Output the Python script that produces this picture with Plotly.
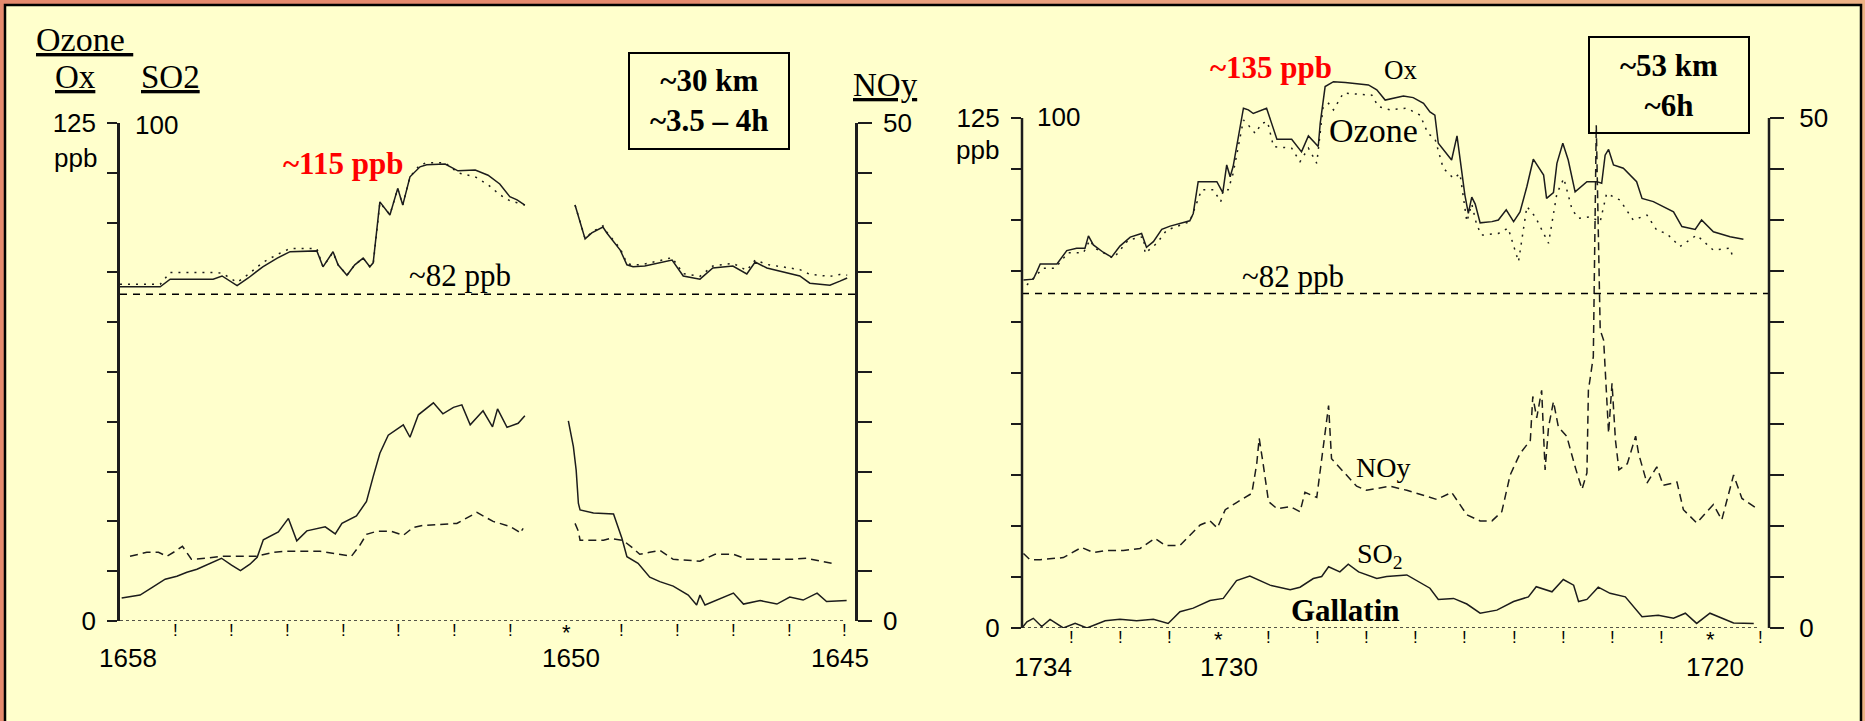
import plotly.graph_objects as go

W, H = 1865, 721

# ---------------- DATA ----------------
# Left panel (time labels 1658 -> 1645)
left_t = [1658.0, 1657.28, 1657.10, 1656.33, 1656.17, 1655.90, 1655.70, 1655.44, 1655.18, 1654.95,
          1654.47, 1654.36, 1654.18, 1654.09, 1653.93, 1653.79, 1653.64, 1653.52, 1653.46, 1653.39,
          1653.34, 1653.16, 1653.02, 1652.93, 1652.80, 1652.62, 1652.50, 1652.17, 1651.94, 1651.63,
          1651.40, 1651.19, 1651.01, 1650.88, 1650.74, None, 1649.84, 1649.66, 1649.54, 1649.34,
          1649.27, 1649.03, 1648.91, 1648.80, 1648.59, 1648.32, 1648.10, 1647.90, 1647.60, 1647.37,
          1647.01, 1646.76, 1646.61, 1646.40, 1645.81, 1645.63, 1645.27, 1645.09, 1644.96]
left_ox = [83.9, 83.9, 85.8, 85.8, 86.6, 84.2, 86.1, 88.9, 91.1, 92.7,
           92.9, 88.9, 92.7, 89.4, 86.8, 89.4, 91.1, 88.9, 89.9, 99.0,
           105.2, 101.9, 108.6, 104.4, 111.5, 114.0, 114.5, 114.7, 113.0, 113.2,
           111.9, 109.7, 106.5, 105.7, 104.4, None, 104.4, 95.9, 97.4, 98.9,
           97.4, 93.1, 89.4, 88.9, 89.1, 89.9, 90.6, 86.6, 85.8, 88.6,
           89.1, 87.1, 90.1, 88.6, 86.6, 84.8, 84.3, 85.3, 86.1]
left_ozone = [84.5, 84.5, 87.5, 87.5, 87.3, 85.0, 87.0, 90.0, 92.0, 93.5,
              93.5, 88.9, 92.5, 89.4, 86.8, 89.4, 91.1, 88.9, 89.5, 99.0,
              105.0, 102.0, 108.5, 104.4, 111.5, 114.5, 115.0, 115.0, 112.5, 111.5,
              109.5, 107.0, 105.5, 105.0, 104.4, None, 104.4, 96.0, 97.6, 99.2,
              97.6, 93.5, 89.8, 89.3, 89.6, 90.4, 91.2, 87.2, 86.5, 89.1,
              89.8, 88.0, 90.6, 89.5, 88.2, 87.0, 86.5, 87.0, 86.8]

left_so2_t = [1657.97, 1657.64, 1657.40, 1657.19, 1656.98, 1656.80, 1656.62, 1656.39, 1656.18, 1656.00,
              1655.84, 1655.67, 1655.54, 1655.43, 1655.16, 1654.98, 1654.83, 1654.65, 1654.32, 1654.14,
              1654.02, 1653.76, 1653.58, 1653.46, 1653.34, 1653.19, 1652.92, 1652.80, 1652.65, 1652.38,
              1652.21, 1652.02, 1651.87, 1651.72, 1651.49, 1651.32, 1651.23, 1651.06, 1650.86, 1650.74,
              None, 1649.96, 1649.87, 1649.82, 1649.78, 1649.75, 1649.51, 1649.15, 1649.09, 1649.00, 1648.91,
              1648.71, 1648.50, 1648.32, 1648.08, 1647.81, 1647.66, 1647.60, 1647.51, 1647.30, 1647.00,
              1646.82, 1646.52, 1646.22, 1645.99, 1645.75, 1645.50, 1645.33, 1644.97]
left_so2 = [4.6, 5.2, 6.9, 8.4, 9.0, 9.8, 10.4, 11.6, 12.6, 11.2,
            10.1, 11.4, 12.8, 16.3, 17.9, 20.6, 16.1, 18.1, 18.9, 17.5,
            19.6, 21.1, 24.0, 29.0, 33.7, 37.3, 39.4, 36.9, 41.4, 43.8,
            41.6, 42.9, 43.4, 39.4, 42.2, 39.0, 42.6, 38.9, 39.7, 41.2,
            None, 40.2, 35.0, 30.3, 23.6, 22.3, 21.7, 21.5, 19.6, 16.6, 12.9,
            11.6, 8.8, 7.9, 7.0, 5.2, 3.2, 5.2, 3.2, 4.2, 5.6,
            3.4, 4.1, 3.4, 4.8, 4.2, 5.6, 3.9, 4.1]

left_noy_t = [1657.82, 1657.52, 1657.31, 1657.16, 1657.01, 1656.88, 1656.72, 1656.45, 1656.18, 1655.97,
              1655.55, 1655.25, 1655.01, 1654.41, 1654.18, 1653.85, 1653.70, 1653.58, 1653.40, 1653.13,
              1652.92, 1652.74, 1652.56, 1651.96, 1651.60, 1651.31, 1651.01, 1650.86, 1650.83, 1650.77,
              None, 1649.84, 1649.78, 1649.75, 1649.33, 1649.21, 1648.98, 1648.80, 1648.68, 1648.50, 1648.32,
              1648.08, 1647.60, 1647.33, 1647.00, 1646.76, 1645.93, 1645.69, 1645.51, 1645.24]
left_noy = [6.5, 6.9, 6.9, 6.5, 7.0, 7.5, 6.2, 6.3, 6.5, 6.5,
            6.5, 6.9, 7.0, 7.0, 6.8, 6.5, 7.6, 8.7, 9.0, 9.0,
            8.6, 9.4, 9.6, 9.8, 10.9, 10.0, 9.5, 9.0, 8.8, 9.3,
            None, 9.8, 9.0, 8.1, 8.1, 8.3, 8.1, 7.3, 6.7, 6.9, 7.1,
            6.2, 6.0, 6.7, 6.7, 6.2, 6.2, 6.3, 6.1, 5.8]

# Right panel (time labels 1734 -> 1720)
right_ox_t = [1733.97, 1733.77, 1733.70, 1733.63, 1733.29, 1733.09, 1732.89, 1732.72, 1732.65, 1732.55,
              1732.35, 1732.18, 1732.01, 1731.80, 1731.57, 1731.47, 1731.33, 1731.16, 1730.99, 1730.59,
              1730.52, 1730.42, 1730.04, 1729.92, 1729.84, 1729.77, 1729.71, 1729.64, 1729.50, 1729.40,
              1729.30, 1729.03, 1728.93, 1728.82, 1728.52, 1728.32, 1728.18, 1728.08, 1727.98, 1727.94,
              1727.84, 1727.67, 1727.43, 1726.96, 1726.79, 1726.62, 1726.45, 1726.25, 1726.05, 1725.84,
              1725.71, 1725.61, 1725.54, 1725.40, 1725.27, 1725.16, 1725.10, 1725.00, 1724.93, 1724.86,
              1724.79, 1724.69, 1724.45, 1724.32, 1724.16, 1724.01, 1723.88, 1723.74, 1723.61, 1723.40,
              1723.34, 1723.20, 1723.13, 1723.01, 1722.90, 1722.76, 1722.52, 1722.32, 1722.22, 1722.15,
              1722.08, 1721.98, 1721.78, 1721.51, 1721.40, 1721.17, 1720.76, 1720.59, 1720.32, 1720.19,
              1719.95, 1719.61, 1719.34]
right_ox = [85.3, 85.5, 87.3, 89.2, 89.2, 92.5, 93.1, 93.1, 96.1, 93.9,
            92.1, 90.9, 93.6, 95.8, 96.7, 93.3, 94.7, 97.7, 98.5, 99.8,
            101.6, 109.4, 109.4, 106.7, 113.5, 110.6, 113.1, 118.0, 127.4, 127.0,
            126.1, 127.4, 123.7, 119.8, 119.8, 116.7, 120.6, 119.2, 118.0, 123.7,
            132.7, 133.9, 133.7, 133.1, 131.9, 129.4, 129.8, 130.4, 130.0, 128.6,
            126.5, 125.7, 118.8, 116.7, 114.7, 120.6, 115.5, 106.1, 101.6, 105.6,
            103.9, 99.3, 99.6, 100.0, 102.5, 99.6, 102.0, 108.2, 114.9, 111.0,
            105.3, 106.7, 113.9, 118.8, 114.7, 106.9, 109.4, 109.4, 109.0, 115.9,
            117.3, 113.5, 112.7, 109.4, 105.3, 104.5, 102.0, 98.4, 97.7, 100.0,
            97.1, 95.9, 95.3]

right_ozone_t = [1733.90, 1733.57, 1733.33, 1733.06, 1732.75, 1732.62, 1732.52, 1732.14, 1731.84, 1731.53,
                 1731.50, 1731.26, 1731.06, 1730.59, 1730.35, 1730.11, 1729.96, 1729.91, 1729.81, 1729.71,
                 1729.50, 1729.43, 1729.26, 1729.13, 1729.01, 1728.89, 1728.52, 1728.35, 1728.18, 1728.01,
                 1727.88, 1727.77, 1727.67, 1727.47, 1726.89, 1726.76, 1726.52, 1726.18, 1725.91, 1725.75,
                 1725.61, 1725.44, 1725.23, 1725.10, 1724.96, 1724.86, 1724.76, 1724.66, 1724.32, 1724.12,
                 1723.91, 1723.74, 1723.57, 1723.30, 1723.13, 1722.99, 1722.82, 1722.69, 1722.46, 1722.25,
                 1722.12, 1721.85, 1721.58, 1721.30, 1721.10, 1720.90, 1720.63, 1720.29, 1719.95, 1719.61,
                 1719.54]
right_ozone = [84.1, 88.2, 88.2, 92.0, 92.0, 95.1, 93.1, 90.6, 95.1, 95.9,
               91.8, 94.3, 97.5, 99.6, 107.4, 107.4, 104.5, 107.4, 107.4, 111.4,
               124.5, 123.7, 121.2, 123.7, 124.1, 118.0, 117.6, 114.3, 117.6, 113.9,
               127.8, 128.6, 127.0, 131.1, 130.6, 127.8, 127.0, 127.4, 125.7, 121.2,
               120.0, 112.7, 110.2, 111.4, 99.6, 103.9, 98.8, 96.3, 96.7, 98.0,
               89.8, 103.3, 100.8, 94.3, 106.5, 110.2, 102.5, 100.4, 100.8, 99.6,
               106.5, 104.9, 100.0, 101.2, 97.5, 96.7, 93.5, 96.3, 92.6, 93.1,
               90.2]

right_so2_t = [1734.00, 1733.90, 1733.77, 1733.60, 1733.43, 1733.16, 1732.92, 1732.68, 1732.31, 1732.01,
               1731.67, 1731.33, 1731.03, 1730.79, 1730.52, 1730.18, 1729.91, 1729.64, 1729.37, 1728.96,
               1728.55, 1728.35, 1728.08, 1727.91, 1727.77, 1727.54, 1727.37, 1727.16, 1726.79, 1726.59,
               1726.18, 1725.71, 1725.54, 1725.23, 1724.96, 1724.69, 1724.35, 1724.01, 1723.71, 1723.55,
               1723.23, 1723.00, 1722.79, 1722.69, 1722.52, 1722.29, 1722.05, 1721.74, 1721.40, 1721.07,
               1720.76, 1720.52, 1720.29, 1720.02, 1719.54, 1719.13]
right_so2 = [0.0, 1.2, 1.9, 0.3, 1.7, 0.0, 0.9, 0.0, 1.4, 1.7,
             1.4, 1.7, 0.9, 3.2, 3.9, 5.4, 5.8, 9.3, 10.2, 8.4,
             7.5, 8.0, 9.7, 10.1, 12.0, 11.0, 12.5, 11.0, 9.7, 10.1,
             10.4, 7.8, 5.6, 5.8, 4.7, 2.9, 3.5, 5.2, 6.1, 8.1,
             7.1, 9.5, 8.4, 5.2, 5.6, 8.0, 6.8, 6.1, 2.2, 2.5,
             1.9, 2.9, 0.9, 2.9, 1.0, 0.9]

right_noy_t = [1733.97, 1733.84, 1733.63, 1733.16, 1732.79, 1732.55, 1732.28, 1731.94, 1731.60, 1731.30,
               1731.09, 1730.79, 1730.38, 1730.18, 1730.03, 1729.87, 1729.64, 1729.33, 1729.23, 1729.18,
               1729.10, 1728.99, 1728.82, 1728.55, 1728.35, 1728.25, 1728.01, 1727.91, 1727.77, 1727.71,
               1727.54, 1727.20, 1727.00, 1726.52, 1726.18, 1725.71, 1725.57, 1725.27, 1724.96, 1724.69,
               1724.45, 1724.25, 1724.08, 1723.88, 1723.67, 1723.62, 1723.54, 1723.44, 1723.37, 1723.30,
               1723.20, 1723.10, 1722.93, 1722.76, 1722.62, 1722.52, 1722.49, 1722.39, 1722.33, 1722.25,
               1722.18, 1722.08, 1722.01, 1721.94, 1721.87, 1721.70, 1721.53, 1721.47, 1721.30, 1721.10,
               1720.97, 1720.69, 1720.56, 1720.29, 1719.95, 1719.78, 1719.54, 1719.37, 1719.03]
right_noy = [7.3, 6.7, 6.7, 6.9, 7.9, 7.4, 7.6, 7.6, 7.8, 8.8,
             8.1, 8.1, 10.1, 10.5, 9.8, 11.6, 12.3, 13.2, 16.1, 18.6,
             16.1, 12.4, 11.7, 11.9, 11.4, 13.3, 12.8, 16.8, 21.8, 16.6,
             15.7, 13.9, 13.5, 13.9, 13.5, 12.8, 12.6, 13.3, 11.1, 10.5,
             10.5, 11.4, 15.0, 17.1, 18.4, 22.7, 20.6, 23.3, 15.5, 19.7,
             22.2, 19.7, 18.8, 15.8, 13.6, 15.2, 23.3, 26.6, 49.3, 29.2,
             28.2, 19.1, 24.0, 18.4, 15.5, 16.1, 18.8, 17.1, 14.2, 15.8,
             14.0, 14.3, 11.6, 10.3, 12.1, 10.6, 15.0, 12.7, 11.6]

# axis tick marks / labels
left_bang = [1657, 1656, 1655, 1654, 1653, 1652, 1651, 1649, 1648, 1647, 1646, 1645]
left_star = [1650]
left_labels = [1658, 1650, 1645]
right_bang = [1733, 1732, 1731, 1729, 1728, 1727, 1726, 1725, 1724, 1723, 1722, 1721, 1719]
right_star = [1730, 1720]
right_labels = [1734, 1730, 1720]
ref_level = 82
ox_max, so2_max, noy_max = 125, 100, 50
ox_step, noy_step = 12.5, 5

# ---------------- STYLE ----------------
SERIF = "Liberation Serif, Times New Roman, serif"
SANS = "Liberation Sans, Arial, sans-serif"
INK = "#1c1c1c"
LW = 1.5


def P(xpx):
    return xpx / W


def Q(ypx):
    return 1 - ypx / H


fig = go.Figure()

# Left panel traces
fig.add_trace(go.Scatter(x=left_t, y=left_ox, mode="lines", xaxis="x", yaxis="y",
                         line=dict(color=INK, width=LW), connectgaps=False))
fig.add_trace(go.Scatter(x=left_t, y=left_ozone, mode="lines", xaxis="x", yaxis="y",
                         line=dict(color=INK, width=LW, dash="2px,6px"), connectgaps=False))
fig.add_trace(go.Scatter(x=left_so2_t, y=left_so2, mode="lines", xaxis="x", yaxis="y2",
                         line=dict(color=INK, width=LW), connectgaps=False))
fig.add_trace(go.Scatter(x=left_noy_t, y=left_noy, mode="lines", xaxis="x", yaxis="y3",
                         line=dict(color=INK, width=LW, dash="8px,5px"), connectgaps=False))
# Right panel traces
fig.add_trace(go.Scatter(x=right_ox_t, y=right_ox, mode="lines", xaxis="x2", yaxis="y4",
                         line=dict(color=INK, width=LW)))
fig.add_trace(go.Scatter(x=right_ozone_t, y=right_ozone, mode="lines", xaxis="x2", yaxis="y4",
                         line=dict(color=INK, width=LW, dash="2px,6px")))
fig.add_trace(go.Scatter(x=right_so2_t, y=right_so2, mode="lines", xaxis="x2", yaxis="y5",
                         line=dict(color=INK, width=LW)))
fig.add_trace(go.Scatter(x=right_noy_t, y=right_noy, mode="lines", xaxis="x2", yaxis="y6",
                         line=dict(color=INK, width=LW, dash="8px,5px")))

hidden_x = dict(showline=False, showgrid=False, zeroline=False, showticklabels=False, ticks="")


def tick_axis(rng, top, step, side="left", standoff=6, line=True):
    tl = 10 if side == "left" else 14
    return dict(range=rng, showgrid=False, zeroline=False, showline=line, linecolor=INK, linewidth=2.5,
                ticks="outside", ticklen=tl, tickwidth=2, tickcolor=INK,
                tickvals=[0, top], ticktext=["0", str(top)], side=side, automargin=False,
                minor=dict(ticks="outside", ticklen=tl, tickwidth=2, tickcolor=INK,
                           tick0=0, dtick=step, showgrid=False),
                tickfont=dict(family=SANS, size=26, color="black"), ticklabelstandoff=standoff)


L_dom_y = [Q(621), Q(123)]
# right panel: data rise above the top tick, so the plotting area extends higher
R_bot, R_top_tick, R_top = 628, 118, 70
R_dom_y = [Q(R_bot), Q(R_top)]
ext = (R_bot - R_top) / (R_bot - R_top_tick)

fig.update_layout(
    width=W, height=H, autosize=False,
    margin=dict(l=0, r=0, t=0, b=0, autoexpand=False),
    paper_bgcolor="#EAA07E", plot_bgcolor="rgba(0,0,0,0)",
    showlegend=False,
    xaxis=dict(domain=[P(120), P(855)], range=[1658, 1644.82], anchor="y", **hidden_x),
    yaxis=dict(domain=L_dom_y, anchor="x", **tick_axis([0, ox_max], ox_max, ox_step, "left", 6)),
    yaxis2=dict(overlaying="y", anchor="x", range=[0, so2_max], visible=False),
    yaxis3=dict(overlaying="y", anchor="x", **tick_axis([0, noy_max], noy_max, noy_step, "right", 6)),
    xaxis2=dict(domain=[P(1022), P(1769)], range=[1734, 1718.82], anchor="y4", **hidden_x),
    yaxis4=dict(domain=R_dom_y, anchor="x2",
                **tick_axis([0, ox_max * ext], ox_max, ox_step, "left", 6, line=False)),
    yaxis5=dict(overlaying="y4", anchor="x2", range=[0, so2_max * ext], visible=False),
    yaxis6=dict(overlaying="y4", anchor="x2",
                **tick_axis([0, noy_max * ext], noy_max, noy_step, "right", 10, line=False)),
)

shapes = []
# outer border tints
shapes.append(dict(type="rect", xref="paper", yref="paper", x0=0, x1=P(700), y0=0, y1=1,
                   fillcolor="#E58A6E", line=dict(width=0), layer="below"))
shapes.append(dict(type="rect", xref="paper", yref="paper", x0=P(1300), x1=1, y0=0, y1=1,
                   fillcolor="#EDB286", line=dict(width=0), layer="below"))
# yellow panel
shapes.append(dict(type="rect", xref="paper", yref="paper", x0=P(5), x1=P(1861), y0=Q(740), y1=Q(5),
                   fillcolor="#FFFFCC", line=dict(color="black", width=2.5), layer="below"))
for xa, ya in (("x", "y"), ("x2", "y4")):
    # dotted baseline
    shapes.append(dict(type="line", xref=f"{xa} domain", yref=ya, x0=0, x1=0.985, y0=0, y1=0,
                       line=dict(color=INK, width=1.5, dash="dot")))
    # ~82 ppb reference
    shapes.append(dict(type="line", xref=f"{xa} domain", yref=ya, x0=0, x1=1, y0=ref_level, y1=ref_level,
                       line=dict(color="black", width=1.5, dash="7px,6px")))
# right panel axis lines (stop at the top tick)
shapes.append(dict(type="line", xref="x2 domain", yref="y4", x0=0, x1=0, y0=0, y1=ox_max,
                   line=dict(color=INK, width=2.5)))
shapes.append(dict(type="line", xref="x2 domain", yref="y6", x0=1, x1=1, y0=0, y1=noy_max,
                   line=dict(color=INK, width=2.5)))
# info boxes
shapes.append(dict(type="rect", xref="paper", yref="paper", x0=P(629), x1=P(789), y0=Q(149), y1=Q(53),
                   line=dict(color="black", width=2)))
shapes.append(dict(type="rect", xref="paper", yref="paper", x0=P(1589), x1=P(1749), y0=Q(133), y1=Q(37),
                   line=dict(color="black", width=2)))
fig.update_layout(shapes=shapes)

ann = []


def txt(text, x, y, size, family=SERIF, color="black", xref="paper", xshift=0):
    ann.append(dict(text=text, x=x if xref != "paper" else P(x), y=Q(y),
                    xref=xref, yref="paper", showarrow=False, xanchor="center", yanchor="middle",
                    xshift=xshift, font=dict(family=family, size=size, color=color)))


# left headings
txt("<u>Ozone </u>", 84, 40, 34)
txt("<u>Ox</u>", 75, 77, 33)
txt("<u>SO2</u>", 170, 77, 33)
txt("ppb", 75, 158, 26, SANS)
txt("100", 156, 125, 26, SANS)
txt("<b>~115 ppb</b>", 343, 163, 31, color="#FF0000")
txt("~82 ppb", 460, 275, 31)
txt("<u>NOy</u>", 885, 85, 33)
txt("<b>~30 km<br>~3.5 – 4h</b>", 709, 101, 31)
# right headings
txt("ppb", 978, 150, 26, SANS)
txt("100", 1058, 117, 26, SANS)
txt("<b>~135 ppb</b>", 1271, 68, 31, color="#FF0000")
txt("Ox", 1400, 70, 27)
txt("Ozone", 1373, 130, 34)
txt("~82 ppb", 1293, 276, 31)
txt("NOy", 1383, 467, 28)
txt("SO<sub>2</sub>", 1380, 555, 28)
txt("<b>Gallatin</b>", 1345, 610, 31)
txt("<b>~53 km<br>~6h</b>", 1669, 86, 31)

# x-axis marks and labels
for v in left_bang:
    txt("!", v, 630, 17, SANS, xref="x")
for v in left_star:
    txt("*", v, 632, 22, SANS, xref="x")
for v, s in zip(left_labels, [8, 5, -5]):
    txt(str(v), v, 658, 26, SANS, xref="x", xshift=s)
for v in right_bang:
    txt("!", v, 637, 17, SANS, xref="x2")
for v in right_star:
    txt("*", v, 639, 22, SANS, xref="x2")
for v, s in zip(right_labels, [21, 10, 4]):
    txt(str(v), v, 667, 26, SANS, xref="x2", xshift=s)

fig.update_layout(annotations=ann)

fig.write_html(
    "out.html",
    config={"displayModeBar": False, "responsive": False},
    post_script="document.documentElement.style.margin='0';document.body.style.margin='0';"
                "document.body.style.padding='0';document.body.style.overflow='hidden';",
)
